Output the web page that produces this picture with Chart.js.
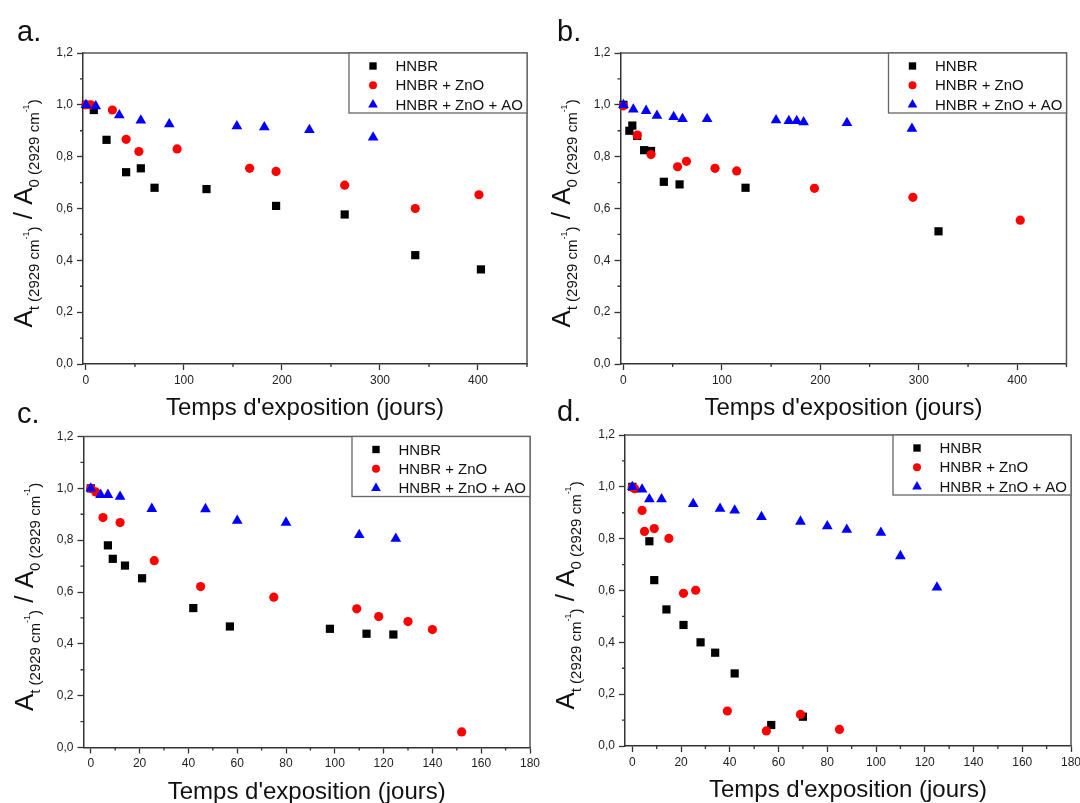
<!DOCTYPE html>
<html>
<head>
<meta charset="utf-8">
<script src="https://cdn.jsdelivr.net/npm/chart.js@4.4.1/dist/chart.umd.min.js"></script>
<style>
  body { margin: 0; background: #fff; width: 1080px; height: 803px; position: relative; overflow: hidden; }
  canvas { position: absolute; }
</style>
</head>
<body>
<canvas id="panel-a" width="540" height="425" style="left:0px;top:0px"></canvas>
<canvas id="panel-b" width="540" height="425" style="left:540px;top:0px"></canvas>
<canvas id="panel-c" width="540" height="408" style="left:0px;top:395px"></canvas>
<canvas id="panel-d" width="540" height="408" style="left:540px;top:395px"></canvas>
<script>
// series names (legend)
const seriesNames = ["HNBR", "HNBR + ZnO", "HNBR + ZnO + AO"];

// panel a : [days, At/A0]
const a_hnbr = [[0, 1.0], [8, 0.98], [21, 0.865], [41, 0.74], [56, 0.755], [70, 0.68], [123, 0.675], [194, 0.61], [264, 0.577], [336, 0.42], [403, 0.365]];
const a_zno = [[0, 1.0], [5, 1.0], [27, 0.98], [41, 0.867], [54, 0.82], [93, 0.83], [167, 0.755], [194, 0.743], [264, 0.69], [336, 0.6], [401, 0.653]];
const a_ao = [[0, 1.0], [10, 0.995], [34, 0.96], [56, 0.94], [85, 0.925], [154, 0.918], [182, 0.914], [228, 0.903], [293, 0.874]];

// panel b
const b_hnbr = [[0, 1.0], [6, 0.9], [9, 0.92], [14, 0.88], [21, 0.825], [28, 0.822], [41, 0.703], [57, 0.693], [124, 0.68], [320, 0.512]];
const b_zno = [[0, 0.996], [14, 0.883], [28, 0.808], [55, 0.761], [64, 0.782], [93, 0.755], [115, 0.745], [194, 0.678], [294, 0.643], [403, 0.555]];
const b_ao = [[0, 1.0], [10, 0.982], [23, 0.977], [34, 0.958], [51, 0.953], [60, 0.946], [85, 0.946], [155, 0.941], [168, 0.938], [176, 0.938], [183, 0.933], [227, 0.93], [293, 0.908]];

// panel c
const c_hnbr = [[0, 1.0], [7, 0.78], [9, 0.728], [14, 0.702], [21, 0.653], [42, 0.538], [57, 0.467], [98, 0.458], [113, 0.439], [124, 0.436]];
const c_zno = [[0, 1.0], [2, 0.986], [5, 0.887], [12, 0.868], [26, 0.721], [45, 0.621], [75, 0.58], [109, 0.535], [118, 0.505], [130, 0.486], [140, 0.455], [152, 0.06]];
const c_ao = [[0, 1.0], [4, 0.975], [7, 0.975], [12, 0.968], [25, 0.921], [47, 0.92], [60, 0.875], [80, 0.868], [110, 0.82], [125, 0.806]];

// panel d
const d_hnbr = [[0, 1.0], [7, 0.79], [9, 0.64], [14, 0.527], [21, 0.467], [28, 0.4], [34, 0.36], [42, 0.28], [57, 0.081], [70, 0.113]];
const d_zno = [[0, 0.998], [1, 0.993], [4, 0.909], [5, 0.828], [9, 0.839], [15, 0.801], [21, 0.589], [26, 0.601], [39, 0.135], [55, 0.058], [69, 0.122], [85, 0.064]];
const d_ao = [[0, 1.0], [4, 0.99], [7, 0.952], [12, 0.952], [25, 0.934], [36, 0.916], [42, 0.909], [53, 0.884], [69, 0.866], [80, 0.848], [88, 0.835], [102, 0.823], [110, 0.733], [125, 0.612]];

// tick values
const yMajor = [0, 0.2, 0.4, 0.6, 0.8, 1.0, 1.2];
const yMinor = [0.1, 0.3, 0.5, 0.7, 0.9, 1.1];
const xMajorLong = [0, 100, 200, 300, 400];
const xMinorLong = [50, 150, 250, 350, 450];
const xMajorShort = [0, 20, 40, 60, 80, 100, 120, 140, 160, 180];
const xMinorShort = [10, 30, 50, 70, 90, 110, 130, 150, 170];

const xTitle = "Temps d'exposition (jours)";
const FONT = "'Liberation Sans', Arial, Helvetica, sans-serif";
const AXIS = "#333";

const styles = [
  { color: "#000000", pointStyle: "rect", radius: 5.8 },
  { color: "#ff0000", pointStyle: "circle", radius: 4.6 },
  { color: "#0000ff", pointStyle: "triangle", radius: 6.2 },
];

function toPoints(arr) {
  return arr.map((p) => ({ x: p[0], y: p[1] }));
}

// extra drawing: frame, minor ticks, axis titles, legend, panel letter
const decor = {
  id: "decor",
  afterDraw(chart, args, opts) {
    const ctx = chart.ctx;
    const ca = chart.chartArea;
    const xs = chart.scales.x;
    const ys = chart.scales.y;
    ctx.save();

    // top and right frame lines
    ctx.strokeStyle = "#555";
    ctx.lineWidth = 1.5;
    ctx.beginPath();
    ctx.moveTo(ca.left, ca.top);
    ctx.lineTo(ca.right, ca.top);
    ctx.lineTo(ca.right, ca.bottom);
    ctx.stroke();

    // minor ticks
    ctx.strokeStyle = AXIS;
    ctx.lineWidth = 1.3;
    ctx.beginPath();
    for (const v of opts.xMinor) {
      const px = xs.getPixelForValue(v);
      ctx.moveTo(px, ca.bottom);
      ctx.lineTo(px, ca.bottom + 3);
    }
    for (const v of yMinor) {
      const py = ys.getPixelForValue(v);
      ctx.moveTo(ca.left, py);
      ctx.lineTo(ca.left - 3, py);
    }
    ctx.stroke();

    // x title
    ctx.fillStyle = "#111";
    ctx.font = "24px " + FONT;
    ctx.textAlign = "center";
    ctx.textBaseline = "alphabetic";
    ctx.fillText(xTitle, (ca.left + ca.right) / 2, ca.bottom + 51);

    // y title with subscripts
    const parts = [
      ["A", 26, 0], ["t (2929 cm", 15, 7], ["-1", 9, -3], [")", 15, 7],
      [" / ", 26, 0],
      ["A", 26, 0], ["0 (2929 cm", 15, 7], ["-1", 9, -3], [")", 15, 7],
    ];
    let total = 0;
    for (const p of parts) {
      ctx.font = p[1] + "px " + FONT;
      total += ctx.measureText(p[0]).width;
    }
    ctx.translate(ca.left - 51, (ca.top + ca.bottom) / 2 + 5);
    ctx.rotate(-Math.PI / 2);
    ctx.textAlign = "left";
    let tx = -total / 2;
    for (const p of parts) {
      ctx.font = p[1] + "px " + FONT;
      ctx.fillText(p[0], tx, p[2]);
      tx += ctx.measureText(p[0]).width;
    }
    ctx.setTransform(1, 0, 0, 1, 0, 0);

    // legend box
    const lx = ca.right - 178;
    const ly = ca.top;
    ctx.fillStyle = "#fff";
    ctx.fillRect(lx, ly, ca.right - lx, 60);
    ctx.strokeStyle = "#666";
    ctx.lineWidth = 1.3;
    ctx.strokeRect(lx, ly, ca.right - lx, 60);
    ctx.font = "15px " + FONT;
    ctx.textBaseline = "middle";
    seriesNames.forEach((name, i) => {
      const yy = ly + 13 + i * 19.3;
      ctx.fillStyle = styles[i].color;
      Chart.helpers.drawPoint(ctx, { pointStyle: styles[i].pointStyle, radius: styles[i].radius - 0.6, rotation: 0, borderWidth: 0 }, lx + 24, yy);
      ctx.fillStyle = "#111";
      ctx.fillText(name, lx + 46.5, yy + 1);
    });

    // panel letter
    ctx.fillStyle = "#111";
    ctx.font = "29px " + FONT;
    ctx.textBaseline = "alphabetic";
    ctx.fillText(opts.letter, opts.letterX, opts.letterY);
    ctx.restore();
  },
};

function makePanel(id, g, series) {
  const datasets = series.map((s, i) => ({
    label: seriesNames[i],
    data: toPoints(s),
    pointStyle: styles[i].pointStyle,
    pointRadius: styles[i].radius,
    pointBackgroundColor: styles[i].color,
    pointBorderColor: styles[i].color,
    pointBorderWidth: 0,
    showLine: false,
    clip: false,
    order: 3 - i,
  }));
  const tickFont = { family: FONT, size: 12 };
  new Chart(document.getElementById(id), {
    type: "scatter",
    data: { datasets },
    plugins: [decor],
    options: {
      responsive: false,
      animation: false,
      events: [],
      layout: { padding: { left: 0, top: g.top - g.cy, right: g.cx + g.cw - g.right, bottom: 0 } },
      plugins: {
        legend: { display: false },
        tooltip: { enabled: false },
        decor: { letter: g.letter, letterX: g.lx - g.cx, letterY: g.ly - g.cy, xMinor: g.xMinor },
      },
      scales: {
        x: {
          type: "linear",
          min: -3,
          max: g.xMax,
          afterBuildTicks: (s) => { s.ticks = g.xMajor.map((v) => ({ value: v })); },
          afterFit: (s) => { s.height = g.cy + g.ch - g.bottom; s.paddingLeft = 0; s.paddingRight = 0; },
          ticks: { font: tickFont, color: "#222", padding: 3, autoSkip: false, maxRotation: 0, callback: (v) => String(v) },
          grid: { drawOnChartArea: false, drawTicks: true, tickLength: 6, tickColor: AXIS, tickWidth: 1.3 },
          border: { display: true, color: AXIS, width: 1.5 },
        },
        y: {
          type: "linear",
          min: 0,
          max: 1.2,
          afterBuildTicks: (s) => { s.ticks = yMajor.map((v) => ({ value: v })); },
          afterFit: (s) => { s.width = g.left - g.cx; s.paddingTop = 0; s.paddingBottom = 0; },
          ticks: { font: tickFont, color: "#222", padding: 4, autoSkip: false, callback: (v) => v.toFixed(1).replace(".", ",") },
          grid: { drawOnChartArea: false, drawTicks: true, tickLength: 6, tickColor: AXIS, tickWidth: 1.3 },
          border: { display: true, color: AXIS, width: 1.5 },
        },
      },
    },
  });
}

makePanel("panel-a", { cx: 0, cy: 0, cw: 540, ch: 425, left: 83, top: 53, right: 527, bottom: 364, xMax: 450, xMajor: xMajorLong, xMinor: xMinorLong, letter: "a.", lx: 17, ly: 41 }, [a_hnbr, a_zno, a_ao]);
makePanel("panel-b", { cx: 540, cy: 0, cw: 540, ch: 425, left: 620.5, top: 53, right: 1066.5, bottom: 364, xMax: 450, xMajor: xMajorLong, xMinor: xMinorLong, letter: "b.", lx: 557, ly: 41 }, [b_hnbr, b_zno, b_ao]);
makePanel("panel-c", { cx: 0, cy: 395, cw: 540, ch: 408, left: 83.5, top: 436.5, right: 530, bottom: 747.5, xMax: 180, xMajor: xMajorShort, xMinor: xMinorShort, letter: "c.", lx: 17, ly: 423 }, [c_hnbr, c_zno, c_ao]);
makePanel("panel-d", { cx: 540, cy: 395, cw: 540, ch: 408, left: 625, top: 435, right: 1071, bottom: 746, xMax: 180, xMajor: xMajorShort, xMinor: xMinorShort, letter: "d.", lx: 557, ly: 421 }, [d_hnbr, d_zno, d_ao]);
</script>
</body>
</html>
